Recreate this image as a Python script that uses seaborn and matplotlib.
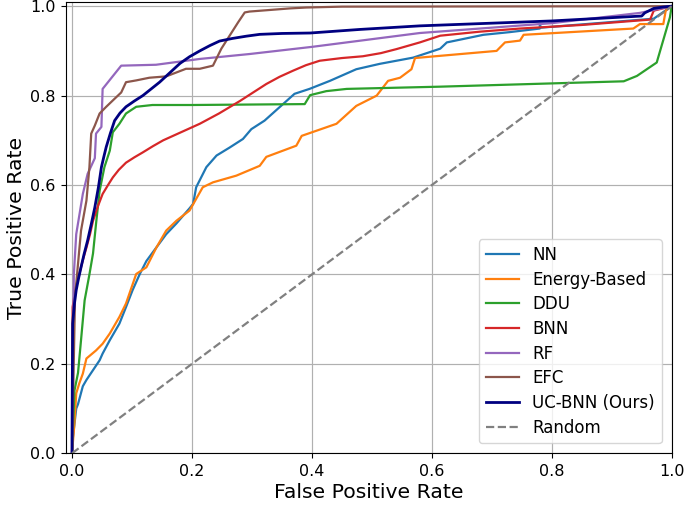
import matplotlib
matplotlib.use("Agg")
import matplotlib.pyplot as plt
import seaborn as sns
import pandas as pd

methods = ["NN", "Energy-Based", "DDU", "BNN", "RF", "EFC", "UC-BNN (Ours)"]
colors = ["#1f77b4", "#ff7f0e", "#2ca02c", "#d62728", "#9467bd", "#8c564b", "navy"]

nn_fpr = [0.0, 0.001, 0.007, 0.010, 0.018, 0.024, 0.035, 0.046, 0.051, 0.063, 0.079, 0.090, 0.101, 0.113,
          0.124, 0.141, 0.157, 0.174, 0.196, 0.202, 0.207, 0.224, 0.241, 0.263, 0.285, 0.299, 0.321,
          0.346, 0.371, 0.396, 0.430, 0.474, 0.513, 0.569, 0.614, 0.625, 0.686, 0.730, 0.780, 0.780,
          0.782, 0.970, 1.0]
nn_tpr = [0.0, 0.03, 0.10, 0.11, 0.15, 0.164, 0.186, 0.208, 0.223, 0.253, 0.29, 0.327, 0.365, 0.401,
          0.43, 0.461, 0.49, 0.514, 0.548, 0.558, 0.595, 0.64, 0.666, 0.684, 0.703, 0.725, 0.744,
          0.774, 0.804, 0.815, 0.833, 0.859, 0.871, 0.885, 0.905, 0.919, 0.936, 0.942, 0.95, 0.96,
          0.952, 0.972, 1.0]

eb_fpr = [0.0, 0.004, 0.007, 0.012, 0.018, 0.024, 0.040, 0.051, 0.063, 0.079, 0.090, 0.107, 0.124,
          0.141, 0.157, 0.174, 0.196, 0.218, 0.235, 0.274, 0.313, 0.324, 0.374, 0.383, 0.441, 0.474,
          0.508, 0.527, 0.547, 0.566, 0.572, 0.614, 0.708, 0.722, 0.747, 0.753, 0.936, 0.947, 0.986,
          0.990, 1.0]
eb_tpr = [0.0, 0.067, 0.134, 0.156, 0.178, 0.212, 0.23, 0.245, 0.268, 0.305, 0.335, 0.401, 0.416,
          0.461, 0.498, 0.52, 0.543, 0.595, 0.606, 0.621, 0.643, 0.663, 0.688, 0.71, 0.737, 0.777,
          0.80, 0.833, 0.84, 0.859, 0.884, 0.889, 0.90, 0.919, 0.923, 0.936, 0.95, 0.96, 0.96,
          0.99, 1.0]

ddu_fpr = [0.0, 0.004, 0.010, 0.015, 0.021, 0.029, 0.035, 0.040, 0.046, 0.054, 0.063, 0.068, 0.079,
           0.090, 0.107, 0.134, 0.200, 0.388, 0.397, 0.424, 0.458, 0.614, 0.920, 0.942, 0.975, 0.997,
           1.0]
ddu_tpr = [0.0, 0.14, 0.18, 0.253, 0.342, 0.40, 0.447, 0.513, 0.587, 0.64, 0.677, 0.718, 0.737,
           0.76, 0.775, 0.779, 0.779, 0.781, 0.801, 0.81, 0.815, 0.82, 0.832, 0.844, 0.874, 0.975,
           1.0]

bnn_fpr = [0.0, 0.001, 0.006, 0.012, 0.018, 0.024, 0.030, 0.035, 0.043, 0.051, 0.060, 0.068, 0.078,
           0.090, 0.104, 0.118, 0.135, 0.152, 0.180, 0.213, 0.245, 0.280, 0.302, 0.324, 0.346, 0.369,
           0.390, 0.413, 0.450, 0.485, 0.515, 0.541, 0.580, 0.614, 0.680, 0.747, 0.850, 0.964, 0.970, 1.0]
bnn_tpr = [0.0, 0.327, 0.37, 0.40, 0.432, 0.46, 0.49, 0.52, 0.552, 0.58, 0.60, 0.617, 0.634,
           0.65, 0.662, 0.673, 0.687, 0.70, 0.717, 0.737, 0.76, 0.788, 0.807, 0.826, 0.842, 0.856,
           0.868, 0.878, 0.884, 0.888, 0.895, 0.904, 0.919, 0.934, 0.943, 0.95, 0.958, 0.97, 0.99, 1.0]

rf_fpr = [0.0, 0.003, 0.007, 0.018, 0.026, 0.038, 0.040, 0.049, 0.051, 0.082, 0.140, 0.213, 0.296,
          0.400, 0.580, 0.800, 0.947, 1.0]
rf_tpr = [0.0, 0.40, 0.49, 0.58, 0.625, 0.66, 0.715, 0.73, 0.815, 0.867, 0.869, 0.882, 0.893,
          0.909, 0.94, 0.962, 0.985, 1.0]

efc_fpr = [0.0, 0.005, 0.015, 0.024, 0.029, 0.032, 0.038, 0.046, 0.057, 0.071, 0.082, 0.090, 0.107,
           0.129, 0.157, 0.190, 0.213, 0.235, 0.249, 0.277, 0.288, 0.296, 0.363, 0.390, 0.450, 1.0]
efc_tpr = [0.0, 0.35, 0.498, 0.565, 0.64, 0.715, 0.733, 0.76, 0.775, 0.793, 0.807, 0.83, 0.834,
           0.84, 0.843, 0.86, 0.86, 0.867, 0.905, 0.964, 0.986, 0.988, 0.995, 0.997, 0.999, 1.0]

uc_fpr = [0.0, 0.0, 0.001, 0.004, 0.007, 0.011, 0.015, 0.020, 0.026, 0.032, 0.038, 0.044, 0.049,
          0.053, 0.057, 0.064, 0.071, 0.080, 0.090, 0.104, 0.118, 0.132, 0.146, 0.163, 0.180, 0.196,
          0.213, 0.230, 0.246, 0.268, 0.291, 0.313, 0.350, 0.397, 0.480, 0.580, 0.800, 0.950, 0.955,
          0.970, 0.985, 1.0]
uc_tpr = [0.0, 0.03, 0.29, 0.335, 0.365, 0.392, 0.416, 0.445, 0.476, 0.512, 0.55, 0.595, 0.64,
          0.663, 0.685, 0.716, 0.744, 0.761, 0.775, 0.788, 0.80, 0.815, 0.83, 0.851, 0.872, 0.887,
          0.90, 0.912, 0.922, 0.928, 0.933, 0.937, 0.939, 0.94, 0.948, 0.956, 0.967, 0.978, 0.985,
          0.995, 0.998, 1.0]

random_pts = [0.0, 1.0]

fprs = [nn_fpr, eb_fpr, ddu_fpr, bnn_fpr, rf_fpr, efc_fpr, uc_fpr]
tprs = [nn_tpr, eb_tpr, ddu_tpr, bnn_tpr, rf_tpr, efc_tpr, uc_tpr]

fig, ax = plt.subplots(figsize=(6.85, 5.05), dpi=100)
fig.subplots_adjust(left=0.0964, right=0.9806, top=0.9966, bottom=0.1024)

for name, col, fx, ty in zip(methods, colors, fprs, tprs):
    df = pd.DataFrame({"fpr": fx, "tpr": ty})
    lw = 2.0 if name.startswith("UC") else 1.6
    sns.lineplot(data=df, x="fpr", y="tpr", color=col, linewidth=lw, label=name,
                 sort=False, estimator=None, ax=ax)

rdf = pd.DataFrame({"fpr": random_pts, "tpr": random_pts})
sns.lineplot(data=rdf, x="fpr", y="tpr", color="gray", linewidth=1.6, linestyle="--",
             label="Random", sort=False, estimator=None, ax=ax)

ax.set_xlim(-0.01, 1.0)
ax.set_ylim(0.0, 1.01)
ax.set_xticks([0.0, 0.2, 0.4, 0.6, 0.8, 1.0])
ax.set_yticks([0.0, 0.2, 0.4, 0.6, 0.8, 1.0])
ax.tick_params(labelsize=11.5, length=3.7, pad=3.7)
ax.set_xlabel("False Positive Rate", fontsize=14.7, labelpad=3)
ax.set_ylabel("True Positive Rate", fontsize=14.7, labelpad=3)
ax.grid(True, color="#b0b0b0", linewidth=0.85)
ax.set_axisbelow(True)
ax.legend(loc="lower right", fontsize=12, labelspacing=0.4, borderaxespad=0.6)

fig.savefig("out.png", dpi=100)
